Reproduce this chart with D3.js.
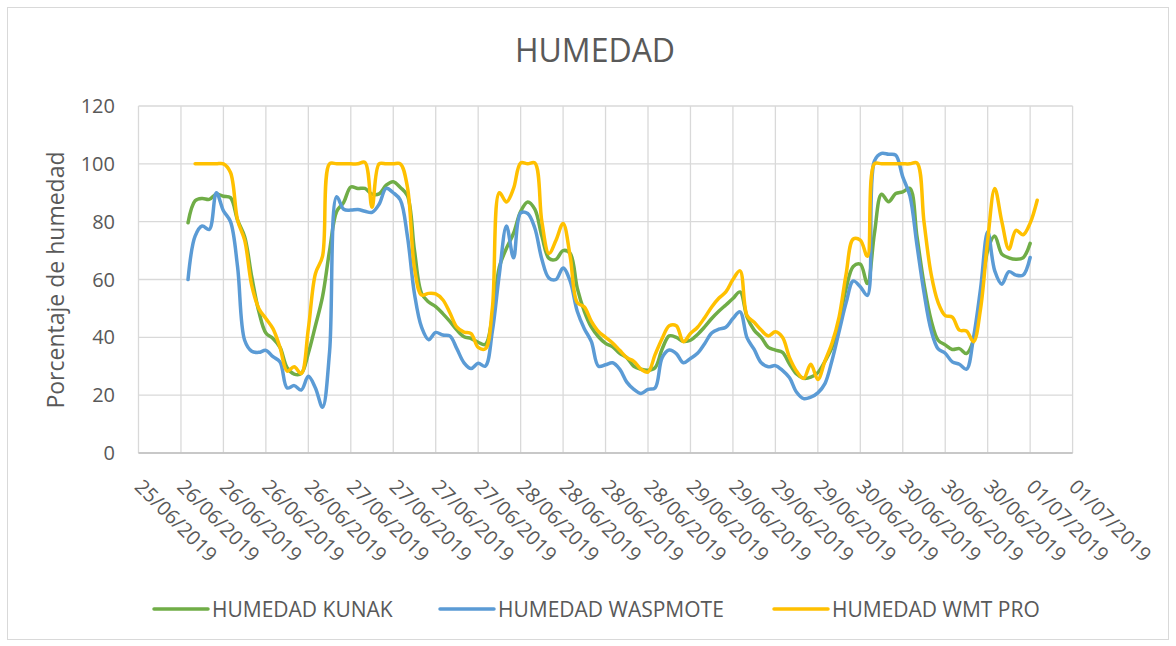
<!DOCTYPE html>
<html lang="es">
<head>
<meta charset="utf-8">
<title>HUMEDAD</title>
<script src="https://cdn.jsdelivr.net/npm/d3@7"></script>
<style>
  body { margin: 0; background: #fff; }
  text { font-family: "Open Sans", sans-serif; fill: #595959; }
</style>
</head>
<body>
<svg id="chart" width="1176" height="646"></svg>
<script>
// lecturas horarias desde el 26/06/2019 01:00
var inicioKunak = Date.UTC(2019, 5, 26, 1);
var inicioWmt = Date.UTC(2019, 5, 26, 2);

var humedadKunak = [
  79.6, 87.2, 88, 87.7, 89.5, 88.8, 88.3, 80.5, 74.8, 61,
  49, 41.5, 39.6, 36.5, 29.5, 27.3, 27.5, 34.5, 44, 54,
  70, 83.5, 86.7, 92, 91.5, 91.5, 89.5, 89.6, 92.6, 93.8,
  91.8, 89, 70, 55.2, 52.2, 50.6, 48.2, 45.5, 42.5, 40.2,
  39.6, 38.3, 37.5, 47, 64.4, 70.8, 76, 83.5, 86.8, 84.3,
  75, 67.3, 67, 70, 69, 57, 49, 43.5, 40.2, 37.9,
  36.7, 34.5, 33, 30, 29, 28.6, 29.5, 36, 40.5, 40,
  38.6, 39, 41, 43.6, 46.5, 49, 51.2, 53.4, 55.7, 47,
  42.5, 40, 36.5, 35.6, 34.8, 30.8, 27.3, 25.8, 26.2, 27.8,
  31.7, 36.5, 45.5, 57, 64.5, 65.3, 58.6, 76, 89.5, 86.9,
  89.7, 90.3, 91.5, 75, 58.5, 46, 39, 37.4, 35.8, 36.1,
  34.4, 39, 52.9, 70, 75, 68.8, 67.5, 67, 67.5, 72.5
];

var humedadWaspmote = [
  60, 75, 78.5, 77.3, 90, 83.8, 80, 64.4, 39, 35.2,
  34.8, 35.5, 33.3, 31.5, 22.5, 23.3, 21.8, 26.5, 22.5, 15.8,
  35, 88.6, 84.3, 84, 84.2, 83.6, 83.2, 86, 91.5, 90,
  87.5, 75, 55, 43.5, 39.2, 41.7, 40.8, 40.5, 36, 31.2,
  29.2, 31, 30, 42, 62, 78.5, 67.5, 83, 82.8, 77.8,
  67, 60.5, 60, 64, 59.4, 49, 43, 38.5, 30, 30.5,
  31.2, 29, 24.5, 22, 20.6, 22, 22.5, 33, 35.6, 34.4,
  31.2, 32.7, 34.5, 37.8, 41.5, 42.8, 43.5, 46.5, 48.8, 39.8,
  35.8, 31.2, 29.8, 30.2, 28.6, 26, 21, 18.8, 19.3, 20.8,
  24, 32, 42, 52, 59.5, 57.5, 54.5, 101, 103.6, 103.3,
  103, 95.5, 89, 72, 55.5, 42.5, 36, 34.5, 31.5, 30.7,
  29, 40, 57, 76.5, 63, 58.4, 62.7, 61.5, 61.5, 67.6
];

var humedadWmtPro = [
  100, 100, 100, 100, 100, 97, 80.5, 73.6, 58, 50,
  46.5, 43, 36.5, 28.3, 29.8, 27.5, 43, 62, 68, 100,
  100, 100, 100, 100, 100.5, 85, 100, 100, 100, 100,
  92, 64, 54.6, 55.2, 55, 53, 48.5, 43.5, 41.8, 41.3,
  36.5, 36, 50, 90, 86.8, 91.5, 100.3, 100, 100.3, 80,
  69, 73.6, 79.4, 68, 52, 50.5, 45.5, 42, 40, 38,
  35.5, 33, 31.7, 29, 28, 34, 39.6, 44, 44, 38.5,
  41.3, 43.5, 46.8, 50.5, 53.5, 55.7, 60, 63, 47.5, 45.2,
  42.5, 40.5, 41.9, 40, 33, 28.3, 25.8, 30.7, 25.4, 31.8,
  38, 47, 62, 74, 73.6, 68, 100, 100, 100, 100,
  100, 100, 100.3, 80, 62, 52, 47.5, 47, 42.5, 42.2,
  38.5, 50, 73.6, 91.5, 80, 70.5, 77, 75.5, 79.5, 87.4
];

var series = [
  { nombre: "HUMEDAD KUNAK", color: "#70AD47", inicio: inicioKunak, valores: humedadKunak },
  { nombre: "HUMEDAD WASPMOTE", color: "#5B9BD5", inicio: inicioKunak, valores: humedadWaspmote },
  { nombre: "HUMEDAD WMT PRO", color: "#FFC000", inicio: inicioWmt, valores: humedadWmtPro }
];

var yTicks = [0, 20, 40, 60, 80, 100, 120];

var svg = d3.select("#chart");
var plotLeft = 138.5, plotRight = 1072.6, plotTop = 106, plotBottom = 453;

// marco del gráfico
svg.append("rect")
  .attr("x", 7.5).attr("y", 7.5)
  .attr("width", 1161).attr("height", 632)
  .attr("fill", "none").attr("stroke", "#D9D9D9");

var x = d3.scaleUtc()
  .domain([Date.UTC(2019, 5, 25, 18), Date.UTC(2019, 6, 1, 6)])
  .range([plotLeft, plotRight]);
var y = d3.scaleLinear().domain([0, 120]).range([plotBottom, plotTop]);

var xTicks = d3.utcHour.every(6).range(x.domain()[0], d3.utcHour.offset(x.domain()[1], 1));
var fmt = d3.utcFormat("%d/%m/%Y");

// rejilla
svg.append("g").selectAll("line").data(yTicks).join("line")
  .attr("x1", plotLeft).attr("x2", plotRight)
  .attr("y1", d => y(d)).attr("y2", d => y(d))
  .attr("stroke", "#D9D9D9").attr("stroke-width", 1.3);
svg.append("g").selectAll("line").data(xTicks).join("line")
  .attr("x1", d => x(d)).attr("x2", d => x(d))
  .attr("y1", plotTop).attr("y2", plotBottom)
  .attr("stroke", "#D9D9D9").attr("stroke-width", 1.3);
svg.append("line")
  .attr("x1", plotLeft).attr("x2", plotRight).attr("y1", plotBottom).attr("y2", plotBottom)
  .attr("stroke", "#BFBFBF").attr("stroke-width", 1.3);

// etiquetas eje Y
svg.append("g").selectAll("text").data(yTicks).join("text")
  .attr("x", 115).attr("y", d => y(d)).attr("dy", "0.35em")
  .attr("text-anchor", "end").style("font-size", "20px")
  .text(d => d);

// etiquetas eje X
svg.append("g").selectAll("text").data(xTicks).join("text")
  .attr("transform", d => "translate(" + x(d) + "," + 483 + ") rotate(45)")
  .attr("dy", "0.35em").attr("text-anchor", "start")
  .style("font-size", "20px")
  .text(d => fmt(d));

// líneas
var line = d3.line()
  .x(d => x(d.t)).y(d => y(d.v))
  .curve(d3.curveCatmullRom.alpha(0.5));

series.forEach(function(s) {
  var pts = s.valores.map((v, i) => ({ t: d3.utcHour.offset(new Date(s.inicio), i), v: v }));
  svg.append("path").datum(pts)
    .attr("d", line)
    .attr("fill", "none").attr("stroke", s.color)
    .attr("stroke-width", 3.5)
    .attr("stroke-linejoin", "round").attr("stroke-linecap", "round");
});

// títulos
svg.append("text").attr("x", 595).attr("y", 62)
  .attr("text-anchor", "middle").style("font-size", "32px")
  .text("HUMEDAD");
svg.append("text")
  .attr("transform", "translate(64,280) rotate(-90)")
  .attr("text-anchor", "middle").style("font-size", "23px")
  .text("Porcentaje de humedad");

// leyenda
var legX = [154, 440, 774];
var leg = svg.append("g").selectAll("g").data(series).join("g")
  .attr("transform", (d, i) => "translate(" + legX[i] + ",609)");
leg.append("line").attr("x1", 0).attr("x2", 54)
  .attr("stroke", d => d.color).attr("stroke-width", 3.5).attr("stroke-linecap", "round");
leg.append("text").attr("x", 58).attr("dy", "0.36em")
  .style("font-size", "21px")
  .text(d => d.nombre);
</script>
</body>
</html>
